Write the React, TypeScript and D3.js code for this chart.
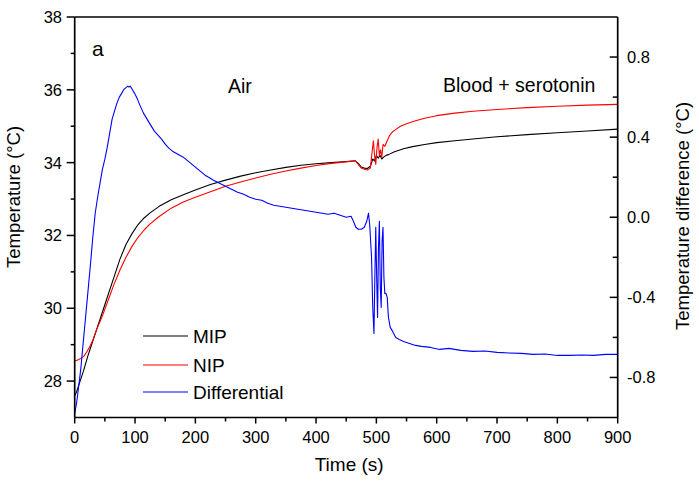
import React from "react";
import * as d3 from "d3";

// ---- data ----
const mipT = [0, 3, 8, 15, 22, 30, 36, 45, 55, 65, 75, 85, 95, 105, 115, 125, 140, 160, 180, 200, 225, 250, 275, 300, 325, 350, 375, 400, 425, 450, 465, 470, 475, 480, 485, 490, 494, 497, 500, 503, 506, 509, 512, 516, 520, 530, 545, 560, 580, 600, 630, 660, 700, 750, 800, 850, 900];
const mipV = [27.6, 27.7, 27.95, 28.3, 28.7, 29.1, 29.4, 29.85, 30.35, 30.85, 31.35, 31.75, 32.05, 32.3, 32.48, 32.62, 32.8, 32.98, 33.12, 33.25, 33.4, 33.52, 33.63, 33.72, 33.8, 33.87, 33.93, 33.97, 34.0, 34.03, 34.05, 33.98, 33.88, 33.85, 33.84, 33.9, 34.1, 34.05, 34.2, 34.12, 34.2, 34.1, 34.15, 34.2, 34.22, 34.3, 34.38, 34.44, 34.5, 34.55, 34.6, 34.65, 34.71, 34.77, 34.82, 34.87, 34.92];

const nipT = [0, 5, 10, 15, 20, 25, 30, 36, 45, 55, 65, 75, 85, 95, 105, 115, 125, 140, 160, 180, 200, 225, 250, 275, 300, 325, 350, 375, 400, 425, 450, 465, 470, 475, 480, 485, 490, 493, 495, 497, 499, 501, 503, 505, 507, 509, 511, 514, 518, 522, 527, 533, 540, 550, 565, 580, 600, 630, 660, 700, 750, 800, 850, 900];
const nipV = [28.55, 28.58, 28.62, 28.68, 28.8, 28.95, 29.12, 29.4, 29.75, 30.2, 30.65, 31.05, 31.4, 31.7, 31.95, 32.15, 32.32, 32.52, 32.75, 32.92, 33.05, 33.2, 33.35, 33.47, 33.58, 33.68, 33.77, 33.85, 33.92, 33.98, 34.02, 34.05, 33.95, 33.85, 33.82, 33.8, 33.85, 34.3, 34.6, 34.2, 33.95, 34.4, 34.65, 34.2, 34.35, 34.15, 34.5, 34.45, 34.6, 34.75, 34.85, 34.92, 35.0, 35.07, 35.15, 35.22, 35.29, 35.36, 35.41, 35.46, 35.51, 35.55, 35.58, 35.6];

const difT = [0, 3, 6, 10, 14, 18, 22, 26, 30, 34, 38, 42, 46, 50, 54, 58, 62, 66, 70, 74, 78, 82, 86, 88, 90, 92, 95, 99, 104, 108, 114, 120, 126, 132, 138, 144, 150, 156, 162, 168, 174, 180, 186, 192, 198, 204, 210, 216, 222, 230, 240, 250, 260, 270, 280, 290, 300, 310, 320, 330, 340, 350, 360, 370, 380, 390, 400, 410, 420, 430, 440, 450, 458, 462, 466, 470, 475, 480, 484, 487, 489, 492, 494, 496, 497.5, 499, 500.5, 502, 503.5, 505, 506.5, 508, 509.5, 511, 512.5, 514, 516, 518, 520, 523, 527, 532, 538, 545, 555, 565, 575, 590, 605, 620, 640, 660, 680, 700, 720, 740, 760, 780, 800, 820, 840, 860, 880, 900];
const difV = [-0.98, -0.93, -0.86, -0.76, -0.63, -0.5, -0.37, -0.24, -0.1, 0.02, 0.1, 0.17, 0.24, 0.29, 0.35, 0.42, 0.49, 0.53, 0.57, 0.6, 0.62, 0.64, 0.65, 0.655, 0.65, 0.655, 0.64, 0.62, 0.59, 0.56, 0.52, 0.49, 0.46, 0.43, 0.41, 0.39, 0.365, 0.345, 0.33, 0.32, 0.31, 0.3, 0.285, 0.27, 0.255, 0.24, 0.225, 0.21, 0.2, 0.185, 0.17, 0.155, 0.14, 0.125, 0.115, 0.1, 0.09, 0.085, 0.07, 0.06, 0.055, 0.05, 0.045, 0.04, 0.035, 0.03, 0.025, 0.02, 0.015, 0.02, 0.01, 0.0, 0.005, -0.02, -0.05, -0.06, -0.06, -0.05, -0.02, 0.02, -0.04, -0.2, -0.45, -0.58, -0.3, -0.05, -0.3, -0.5, -0.15, -0.02, -0.35, -0.45, -0.12, -0.05, -0.3, -0.38, -0.38, -0.4, -0.5, -0.55, -0.57, -0.6, -0.61, -0.62, -0.63, -0.64, -0.645, -0.65, -0.66, -0.655, -0.665, -0.67, -0.668, -0.675, -0.678, -0.68, -0.685, -0.683, -0.69, -0.69, -0.688, -0.69, -0.685, -0.685];

const xTicks = [0, 100, 200, 300, 400, 500, 600, 700, 800, 900];
const xMinor = [50, 150, 250, 350, 450, 550, 650, 750, 850];
const yLTicks = [28, 30, 32, 34, 36, 38];
const yLMinor = [29, 31, 33, 35, 37];
const yRTicks = [-0.8, -0.4, 0.0, 0.4, 0.8];
const yRMinor = [-0.6, -0.2, 0.2, 0.6];
const yRLabels = ["-0.8", "-0.4", "0.0", "0.4", "0.8"];

const seriesNames = ["MIP", "NIP", "Differential"];
const seriesColors = ["#000000", "#ff0000", "#0000ff"];

const W = 699, H = 482;
const L = 74.7, R = 617.7, T = 17, B = 417.5;
const FONT = "Liberation Sans, Arial, sans-serif";

export default function App() {
  const x = d3.scaleLinear().domain([0, 900]).range([L, R]);
  const yL = d3.scaleLinear().domain([27, 38]).range([B, T]);
  const yR = d3.scaleLinear().domain([-1, 1]).range([B, T]);

  const mkLine = (ts: number[], vs: number[], y: d3.ScaleLinear<number, number>) =>
    d3.line<number>().x((_, i) => x(ts[i])).y((v) => y(v))(vs) || "";

  const paths = [
    mkLine(mipT, mipV, yL),
    mkLine(nipT, nipV, yL),
    mkLine(difT, difV, yR),
  ];

  return (
    <svg width={W} height={H} style={{ position: "absolute", left: 0, top: 0, background: "#fff" }} fontFamily={FONT}>
      <rect width={W} height={H} fill="#fff" />
      <defs>
        <clipPath id="plot">
          <rect x={L} y={T} width={R - L} height={B - T} />
        </clipPath>
      </defs>
      <g clipPath="url(#plot)" fill="none" strokeWidth={1.1} strokeLinejoin="round">
        {paths.map((d, i) => (
          <path key={i} d={d} stroke={seriesColors[i]} />
        ))}
      </g>

      {/* frame */}
      <g stroke="#000" strokeWidth={1.7} fill="none">
        <line x1={L} x2={R} y1={T} y2={T} />
        <line x1={L} x2={R} y1={B} y2={B} />
        <line x1={L} x2={L} y1={T} y2={B} />
        <line x1={R} x2={R} y1={T} y2={B} />
      </g>

      {/* bottom axis */}
      <g stroke="#000" strokeWidth={1.5}>
        {xTicks.map((t) => (
          <line key={t} x1={x(t)} x2={x(t)} y1={B} y2={B + 6} />
        ))}
        {xMinor.map((t) => (
          <line key={t} x1={x(t)} x2={x(t)} y1={B} y2={B + 4} />
        ))}
      </g>
      <g fontSize={16.5} textAnchor="middle" fill="#000">
        {xTicks.map((t) => (
          <text key={t} x={x(t)} y={443}>{t}</text>
        ))}
      </g>
      <text x={(L + R) / 2 + 3} y={471} fontSize={19} textAnchor="middle">Time (s)</text>

      {/* left axis */}
      <g stroke="#000" strokeWidth={1.5}>
        {yLTicks.map((t) => (
          <line key={t} x1={L - 8} x2={L} y1={yL(t)} y2={yL(t)} />
        ))}
        {yLMinor.map((t) => (
          <line key={t} x1={L - 4} x2={L} y1={yL(t)} y2={yL(t)} />
        ))}
      </g>
      <g fontSize={16.5} textAnchor="end">
        {yLTicks.map((t) => (
          <text key={t} x={62} y={yL(t) + 6}>{t}</text>
        ))}
      </g>
      <text transform="translate(20,268) rotate(-90)" fontSize={18.5} textAnchor="start">Temperature (°C)</text>

      {/* right axis */}
      <g stroke="#000" strokeWidth={1.5}>
        {yRTicks.map((t) => (
          <line key={t} x1={R - 8} x2={R} y1={yR(t)} y2={yR(t)} />
        ))}
        {yRMinor.map((t) => (
          <line key={t} x1={R - 5} x2={R} y1={yR(t)} y2={yR(t)} />
        ))}
      </g>
      <g fontSize={16.5} textAnchor="start">
        {yRTicks.map((t, i) => (
          <text key={t} x={627} y={yR(t) + 6}>{yRLabels[i]}</text>
        ))}
      </g>
      <text transform="translate(689,330) rotate(-90)" fontSize={18.5} textAnchor="start">Temperature difference (°C)</text>

      {/* annotations */}
      <text x={92} y={56} fontSize={21}>a</text>
      <text x={228} y={93} fontSize={19.5}>Air</text>
      <text x={443} y={92} fontSize={19.5}>Blood + serotonin</text>

      {/* legend */}
      {seriesNames.map((n, i) => {
        const ly = [336, 365, 392][i];
        return (
          <g key={n}>
            <line x1={143} x2={188} y1={ly} y2={ly} stroke={seriesColors[i]} strokeWidth={1.1} />
            <text x={193} y={ly + 7} fontSize={19}>{n}</text>
          </g>
        );
      })}
    </svg>
  );
}
